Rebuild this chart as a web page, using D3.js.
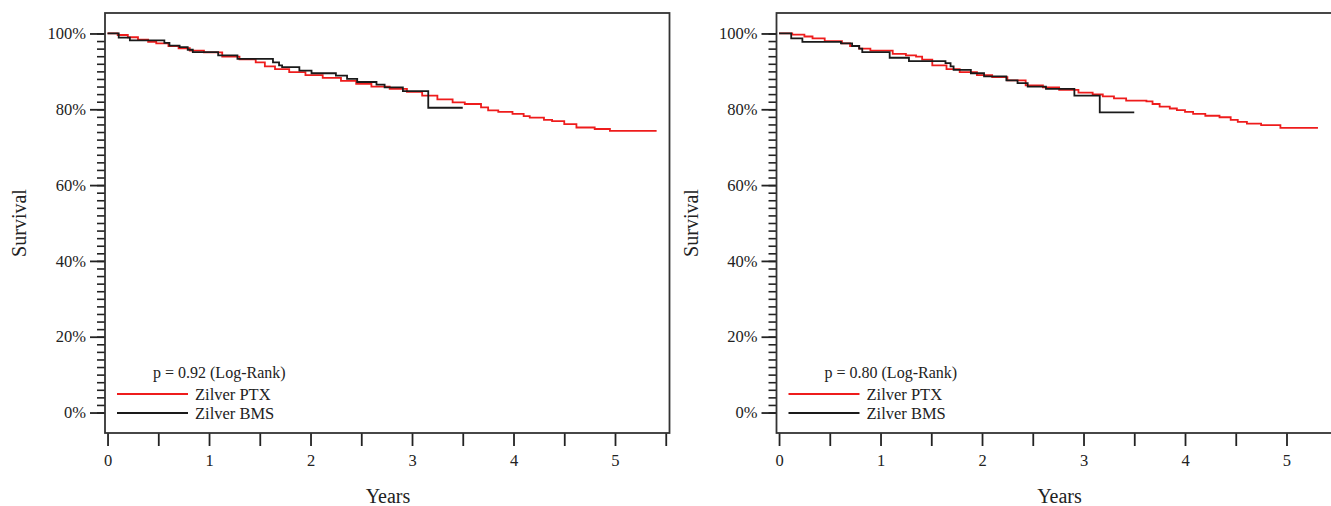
<!DOCTYPE html>
<html>
<head>
<meta charset="utf-8">
<script src="https://cdn.jsdelivr.net/npm/d3@7"></script>
<style>
  body { margin: 0; background: #fff; }
  svg text { font-family: "Liberation Serif", "DejaVu Serif", serif; fill: #222; }
</style>
</head>
<body>
<div id="chart"></div>
<script>
// Kaplan-Meier steps: [years, survival %]
var ptxLeft = [[0,100],[0.1,99.6],[0.2,99.0],[0.3,98.4],[0.4,97.8],[0.48,97.4],[0.6,96.7],[0.7,96.1],[0.81,95.5],[0.95,95.0],
  [1.13,93.9],[1.3,93.2],[1.46,92.4],[1.55,91.3],[1.65,90.6],[1.79,89.8],[1.95,89.0],[2.12,88.3],[2.3,87.5],[2.45,86.7],
  [2.6,86.0],[2.78,85.4],[2.95,84.6],[3.1,83.6],[3.25,82.6],[3.4,81.8],[3.52,81.4],[3.68,80.5],[3.75,79.7],[3.85,79.3],
  [3.99,78.8],[4.1,78.2],[4.16,77.8],[4.3,77.2],[4.38,76.9],[4.5,76.1],[4.62,75.2],[4.8,74.8],[4.95,74.3],[5.41,74.3]];
var bmsLeft = [[0,100],[0.11,98.9],[0.22,98.2],[0.56,97.5],[0.61,96.8],[0.71,96.4],[0.79,95.7],[0.84,95.1],[1.09,94.2],
  [1.28,93.3],[1.63,92.4],[1.69,91.6],[1.72,91.1],[1.89,90.2],[2.01,89.5],[2.25,88.9],[2.36,88.0],[2.46,87.2],[2.65,86.5],
  [2.73,85.8],[2.91,84.8],[3.16,80.4],[3.5,80.4]];
var ptxRight = [[0,100],[0.13,99.7],[0.25,99.2],[0.33,98.7],[0.45,98.0],[0.62,97.4],[0.7,96.7],[0.79,96.0],[0.9,95.5],
  [1.12,94.6],[1.25,94.2],[1.35,93.9],[1.41,93.1],[1.51,91.6],[1.65,90.6],[1.78,89.8],[1.95,89.0],[2.1,88.5],[2.25,87.6],
  [2.43,86.3],[2.6,85.8],[2.76,85.1],[2.95,84.4],[3.09,83.9],[3.19,83.4],[3.3,82.9],[3.42,82.3],[3.62,82.1],[3.68,81.4],
  [3.75,80.7],[3.85,80.2],[3.92,79.8],[4.0,79.3],[4.08,78.8],[4.2,78.3],[4.34,77.9],[4.45,77.2],[4.52,76.7],[4.61,76.2],
  [4.75,75.8],[4.94,75.1],[5.31,75.1]];
var bmsRight = [[0,100],[0.12,98.7],[0.23,97.8],[0.61,97.4],[0.72,96.7],[0.79,96.0],[0.82,95.1],[1.09,93.6],[1.28,92.7],
  [1.64,92.2],[1.69,91.3],[1.72,90.4],[1.89,89.5],[2.02,88.7],[2.24,87.6],[2.35,86.9],[2.45,86.0],[2.63,85.4],[2.91,83.6],
  [3.16,79.2],[3.5,79.2]];

var seriesNames = ['Zilver PTX', 'Zilver BMS'];
var seriesColors = ['#ee1c1c', '#1a1a1a'];
var pValues = ['p = 0.92 (Log-Rank)', 'p = 0.80 (Log-Rank)'];
var xTicks = [0, 0.5, 1, 1.5, 2, 2.5, 3, 3.5, 4, 4.5, 5, 5.5];
var xTickLabels = ['0', '', '1', '', '2', '', '3', '', '4', '', '5', ''];
var yMajor = [0, 20, 40, 60, 80, 100];
var yMinor = d3.range(0, 101, 2);

var width = 1331, height = 506;
var svg = d3.select('#chart').append('svg')
  .attr('width', width)
  .attr('height', height);

var pw = 564.5, ph = 420;
var x = d3.scaleLinear().domain([-0.025, 5.537]).range([0, pw]);
var y = d3.scaleLinear().domain([-5.4, 105.4]).range([ph, 0]);

var line = d3.line()
  .x(function (d) { return x(d[0]); })
  .y(function (d) { return y(d[1]); })
  .curve(d3.curveStepAfter);

function panel(left, data, pText) {
  var g = svg.append('g').attr('transform', 'translate(' + left + ',13)');

  // minor then major y ticks
  g.append('g')
    .call(d3.axisLeft(y).tickValues(yMinor).tickSize(8).tickFormat(''))
    .call(function (a) { a.select('.domain').remove(); a.selectAll('line').attr('stroke', '#222').attr('stroke-width', 1.6); });
  g.append('g')
    .call(d3.axisLeft(y).tickValues(yMajor).tickSize(15).tickPadding(4).tickFormat(function (d) { return d + '%'; }))
    .call(function (a) {
      a.select('.domain').remove();
      a.selectAll('line').attr('stroke', '#222').attr('stroke-width', 1.8);
      a.selectAll('text').style('font-size', '16.5px').attr('fill', '#222');
    });

  g.append('g')
    .attr('transform', 'translate(0,' + ph + ')')
    .call(d3.axisBottom(x).tickValues(xTicks).tickSize(13).tickPadding(8)
      .tickFormat(function (d, i) { return xTickLabels[i]; }))
    .call(function (a) {
      a.select('.domain').remove();
      a.selectAll('line').attr('stroke', '#222').attr('stroke-width', 1.8);
      a.selectAll('text').style('font-size', '16.5px').attr('fill', '#222');
    });

  g.append('rect')
    .attr('width', pw).attr('height', ph)
    .attr('fill', 'none').attr('stroke', '#333').attr('stroke-width', 1.8);

  data.forEach(function (s, i) {
    g.append('path')
      .datum(s)
      .attr('d', line)
      .attr('fill', 'none')
      .attr('stroke', seriesColors[i])
      .attr('stroke-width', 1.8);
  });

  g.append('text')
    .attr('x', 48).attr('y', 365)
    .style('font-size', '16px')
    .text(pText);

  seriesNames.forEach(function (n, i) {
    var ly = 381 + i * 19;
    g.append('line')
      .attr('x1', 12).attr('x2', 83)
      .attr('y1', ly).attr('y2', ly)
      .attr('stroke', seriesColors[i]).attr('stroke-width', 1.8);
    g.append('text')
      .attr('x', 90).attr('y', ly + 6)
      .style('font-size', '16.5px')
      .text(n);
  });

  g.append('text')
    .attr('transform', 'translate(' + (-79) + ',' + (ph / 2) + ') rotate(-90)')
    .attr('text-anchor', 'middle')
    .style('font-size', '20px')
    .text('Survival');

  g.append('text')
    .attr('x', 283).attr('y', 490)
    .attr('text-anchor', 'middle')
    .style('font-size', '20px')
    .text('Years');
}

panel(105, [ptxLeft, bmsLeft], pValues[0]);
panel(776.5, [ptxRight, bmsRight], pValues[1]);
</script>
</body>
</html>
